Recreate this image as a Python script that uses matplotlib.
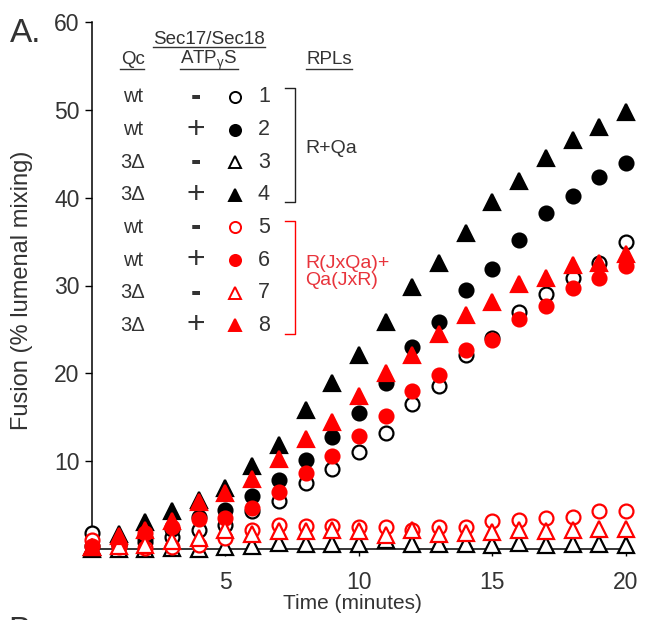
import matplotlib as mpl
mpl.use('Agg')
import matplotlib.pyplot as plt
from matplotlib.lines import Line2D

plt.rcParams['font.family'] = ['Liberation Sans', 'DejaVu Sans']

# time points (minutes)
time = list(range(0, 21))

# series, % lumenal mixing
s1 = [1.8, 0.6, 0.8, 1.4, 2.2, 2.7, 4.3, 5.5, 7.5, 9.1, 11.0, 13.2, 16.5, 18.6, 22.1, 24.0, 27.0, 29.0, 30.9, 32.6, 35.0]
s2 = [0.3, 0.4, 1.2, 2.3, 3.7, 4.4, 6.0, 7.8, 10.1, 12.7, 15.5, 18.9, 23.0, 25.9, 29.5, 31.9, 35.2, 38.2, 40.2, 42.4, 44.0]
s3 = [0.0, 0.0, 0.0, 0.1, 0.0, 0.2, 0.35, 0.65, 0.6, 0.6, 0.6, 1.0, 0.6, 0.6, 0.6, 0.5, 0.7, 0.5, 0.6, 0.6, 0.5]
s4 = [0.2, 1.7, 3.1, 4.3, 5.6, 6.9, 9.4, 11.8, 15.8, 18.9, 22.1, 25.8, 29.8, 32.6, 36.0, 39.5, 41.9, 44.5, 46.6, 48.0, 49.8]
s5 = [1.0, 0.2, 0.1, 0.2, 0.45, 1.2, 2.2, 2.7, 2.6, 2.6, 2.5, 2.5, 2.2, 2.5, 2.5, 3.2, 3.3, 3.5, 3.7, 4.3, 4.3]
s6 = [0.3, 0.5, 1.8, 2.5, 3.4, 3.5, 4.7, 6.5, 8.7, 10.6, 12.9, 15.1, 18.0, 19.8, 22.6, 23.8, 26.2, 27.7, 29.7, 30.9, 32.2]
s7 = [0.2, 0.3, 0.45, 0.9, 1.2, 2.2, 1.7, 2.1, 2.0, 2.2, 2.0, 1.6, 2.2, 1.7, 1.8, 1.9, 2.2, 2.1, 2.2, 2.3, 2.3]
s8 = [0.2, 1.5, 2.2, 3.2, 5.3, 6.4, 8.0, 10.2, 12.5, 14.5, 17.4, 20.0, 22.1, 24.5, 26.6, 28.1, 30.2, 30.9, 32.3, 32.6, 33.6]

series = [s1, s2, s3, s4, s5, s6, s7, s8]
qc = ['wt', 'wt', '3\u0394', '3\u0394', 'wt', 'wt', '3\u0394', '3\u0394']
atp = ['-', '+', '-', '+', '-', '+', '-', '+']
nums = ['1', '2', '3', '4', '5', '6', '7', '8']

RED = '#ff0000'
TXT = '#333333'
colors = ['black'] * 4 + [RED] * 4
shapes = ['o', 'o', '^', '^', 'o', 'o', '^', '^']
filled = [False, True, False, True, False, True, False, True]

W, H = 645, 620
fig = plt.figure(figsize=(W / 100, H / 100), dpi=100)


def fx(px):
    return px / W


def fy(py):
    return 1 - py / H


ax = fig.add_axes([fx(92), fy(549), (630 - 92) / W, (549 - 22) / H])

for ys, c, m, f in zip(series, colors, shapes, filled):
    ms = 10 if m == 'o' else 11
    ax.plot(time, ys, linestyle='none', marker=m, markersize=ms,
            markerfacecolor=c if f else 'white', markeredgecolor=c,
            markeredgewidth=1.6, clip_on=False, zorder=3)

ax.set_xlim(0, 20.15)
ax.set_ylim(0, 60)
ax.set_xticks([5, 10, 15, 20])
ax.set_yticks([10, 20, 30, 40, 50, 60])
for s in ['top', 'right']:
    ax.spines[s].set_visible(False)
for s in ['left', 'bottom']:
    ax.spines[s].set_linewidth(1.1)
ax.tick_params(direction='out', length=5, width=1, labelsize=16.5, labelcolor=TXT)
ax.tick_params(axis='x', pad=11)
ax.tick_params(axis='y', pad=4)

ax.set_xlabel('Time (minutes)', fontsize=15, color=TXT)
ax.xaxis.set_label_coords(0.485, -0.1025)
ax.xaxis.label.set_va('center')
ax.set_ylabel('Fusion (% lumenal mixing)', fontsize=17, color=TXT)
ax.yaxis.set_label_coords(-0.13, 0.49)
ax.yaxis.label.set_va('center')

fig.text(fx(10), fy(34), 'A.', fontsize=24, color=TXT, ha='left', va='center')
# top of the next panel's letter, cut by the bottom edge as in the source
fig.text(fx(8), fy(632), 'B.', fontsize=24, color=TXT, ha='left', va='center')

# legend table
hdr = dict(fontsize=13.5, color=TXT, ha='center', va='center')
fig.text(fx(209), fy(40), 'Sec17/Sec18', **hdr)
fig.text(fx(133), fy(60), 'Qc', **hdr)
fig.text(fx(209), fy(60), 'ATP$_{\\mathregular{\u03b3}}$S', **hdr)
fig.text(fx(329), fy(60), 'RPLs', **hdr)
for x0, x1, yy in [(153, 265, 47), (120, 144, 69), (180, 238, 69), (306, 352, 69)]:
    fig.add_artist(Line2D([fx(x0), fx(x1)], [fy(yy), fy(yy)], color=TXT, lw=1))

for i in range(8):
    yy = 97 + i * 32.6
    fig.text(fx(133), fy(yy), qc[i], fontsize=14.5, color=TXT, ha='center', va='center')
    if atp[i] == '+':
        fig.text(fx(196), fy(yy), '+', fontsize=23, color=TXT, ha='center', va='center')
    else:
        fig.text(fx(196), fy(yy), '-', fontsize=22, fontweight='bold', color=TXT,
                 ha='center', va='center')
    fig.text(fx(264), fy(yy), nums[i], fontsize=15.5, color=TXT, ha='center', va='center')
    c = colors[i]
    fig.add_artist(Line2D([fx(235)], [fy(yy)], linestyle='none', marker=shapes[i],
                          markersize=8, markerfacecolor=c if filled[i] else 'white',
                          markeredgecolor=c, markeredgewidth=1.4))

# brackets
for (ya, yb), c in [((88, 202), '#222222'), ((221, 334), RED)]:
    fig.add_artist(Line2D([fx(285), fx(295), fx(295), fx(285)],
                          [fy(ya), fy(ya), fy(yb), fy(yb)], color=c, lw=1))
fig.text(fx(305), fy(148), 'R+Qa', fontsize=14, color=TXT, ha='left', va='center')
fig.text(fx(305), fy(272), 'R(JxQa)+\nQa(JxR)', fontsize=14, color='#e8343c',
         ha='left', va='center', linespacing=0.95)

plt.savefig('out.png', dpi=100)
